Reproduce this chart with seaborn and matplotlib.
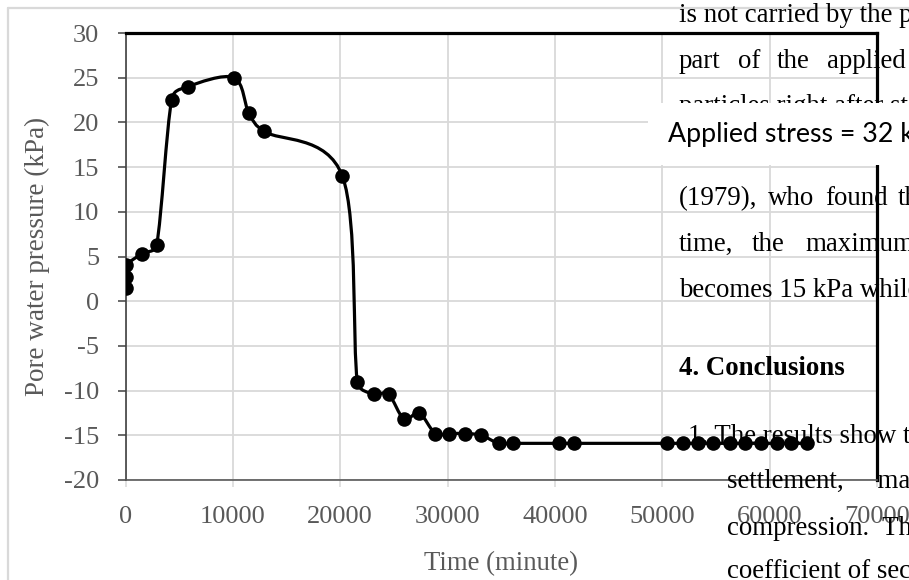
import numpy as np
import matplotlib
matplotlib.use("Agg")
import matplotlib.pyplot as plt
import seaborn as sns
import pandas as pd
from matplotlib.path import Path
from matplotlib.patches import PathPatch, Rectangle
from matplotlib.lines import Line2D

# ---------------- data ----------------
time_min = [0, 10, 60, 1500, 2900, 4300, 5800, 10100, 11500, 12900, 20200,
            21600, 23150, 24500, 25950, 27350, 28850, 30150, 31650, 33150,
            34750, 36050, 40400, 41800, 50450, 51950, 53350, 54750, 56300,
            57700, 59150, 60650, 62000, 63450]
pore_kpa = [1.5, 2.7, 4.0, 5.3, 6.3, 22.5, 24.0, 25.0, 21.0, 19.0, 14.0,
            -9.0, -10.4, -10.4, -13.2, -12.5, -14.8, -14.8, -14.8, -15.0,
            -15.9, -15.9, -15.9, -15.9, -15.9, -15.9, -15.9, -15.9, -15.9,
            -15.9, -15.9, -15.9, -15.9, -15.9]
x_ticks = [0, 10000, 20000, 30000, 40000, 50000, 60000, 70000]
y_ticks = [-20, -15, -10, -5, 0, 5, 10, 15, 20, 25, 30]
x_label = "Time (minute)"
y_label = "Pore water pressure (kPa)"
box_text = "Applied stress = 32 kPa"

W, H = 909, 580
sns.set_style("white")
plt.rcParams["axes.unicode_minus"] = False
plt.rcParams["font.family"] = ["Liberation Serif", "DejaVu Serif"]

fig = plt.figure(figsize=(W / 100, H / 100), dpi=100)
fig.patch.set_facecolor("white")

def fx(px):
    return px / W

def fy(py):
    return 1 - py / H

L, R, T, B = 125.5, 877, 33, 480
XMIN, XMAX, YMIN, YMAX = 0, 70000, -20, 30
ax = fig.add_axes([fx(L), fy(B), fx(R - L), (B - T) / H])

df = pd.DataFrame({"t": time_min, "p": pore_kpa})

# smoothed line, Excel-like Bezier (tangent length limited in screen space)
P = np.column_stack([df["t"].to_numpy(float), df["p"].to_numpy(float)])
scale = np.array([(R - L) / (XMAX - XMIN), (B - T) / (YMAX - YMIN)])
n = len(P)
verts = [tuple(P[0])]
codes = [Path.MOVETO]
for i in range(n - 1):
    p0 = P[i - 1] if i > 0 else P[i]
    p1 = P[i]
    p2 = P[i + 1]
    p3 = P[i + 2] if i + 2 < n else P[i + 1]
    d12 = np.hypot(*((p2 - p1) * scale))
    d02 = np.hypot(*((p2 - p0) * scale))
    d13 = np.hypot(*((p3 - p1) * scale))
    f1 = 1 / 6
    if d02 > 0 and d02 / 6 > d12 / 2:
        f1 = d12 / (2 * d02)
    f2 = 1 / 6
    if d13 > 0 and d13 / 6 > d12 / 2:
        f2 = d12 / (2 * d13)
    c1 = p1 + (p2 - p0) * f1
    c2 = p2 - (p3 - p1) * f2
    verts += [tuple(c1), tuple(c2), tuple(p2)]
    codes += [Path.CURVE4] * 3
ax.add_patch(PathPatch(Path(verts, codes), facecolor="none", edgecolor="black",
                       lw=2.3, zorder=3, transform=ax.transData,
                       capstyle="round", joinstyle="round"))

sns.scatterplot(data=df, x="t", y="p", ax=ax, color="black", s=110,
                edgecolor="black", linewidth=0, zorder=4, legend=False)

ax.set_xlim(XMIN, XMAX)
ax.set_ylim(YMIN, YMAX)
ax.set_xticks(x_ticks)
ax.set_xticklabels([str(v) for v in x_ticks])
ax.set_yticks(y_ticks)
ax.set_yticklabels([str(v) for v in y_ticks])
ax.grid(True, color="#d9d9d9", lw=1.3)
ax.set_axisbelow(True)
ax.tick_params(axis="y", which="major", direction="out", length=6, width=1.1,
               color="#404040", labelsize=19, labelcolor="#595959", pad=13, left=True)
ax.tick_params(axis="x", which="major", direction="out", length=5, width=1.1,
               color="#d9d9d9", labelsize=19, labelcolor="#595959", pad=14, bottom=True)
ax.set_xlabel(x_label, fontsize=19.3, color="#595959", labelpad=16)
ax.set_ylabel(y_label, fontsize=19.5, color="#595959", labelpad=10)

for s in ["top", "right"]:
    ax.spines[s].set_color("black")
    ax.spines[s].set_linewidth(2.3)
ax.spines["left"].set_color("#404040")
ax.spines["left"].set_linewidth(1.2)
ax.spines["bottom"].set_color("#595959")
ax.spines["bottom"].set_linewidth(1.2)

# outer chart frame (light gray)
fig.add_artist(Line2D([fx(8), fx(8)], [0, fy(8)], transform=fig.transFigure,
                      color="#d9d9d9", lw=1.6, zorder=1))
fig.add_artist(Line2D([fx(8), 1], [fy(8), fy(8)], transform=fig.transFigure,
                      color="#d9d9d9", lw=1.6, zorder=1))

# overlapping document text
doc_font = dict(fontfamily=["Liberation Serif", "DejaVu Serif"], fontsize=19.4,
                color="black", va="baseline", ha="left", zorder=6)
doc_lines = [
    (679, 21.7, "is not carried by the p", "normal"),
    (679, 113.3, "particles right after st", "normal"),
    (679, 296.7, "becomes 15 kPa while", "normal"),
    (679, 375.0, "4. Conclusions", "bold"),
    (688, 443.3, "1. The results show t", "normal"),
    (727, 488.0, "settlement,     ma", "normal"),
    (727, 535.0, "compression.  Th", "normal"),
    (727, 578.0, "coefficient of sec", "normal"),
]
for x0, yb, txt, wt in doc_lines:
    fig.text(fx(x0), fy(yb), txt, fontweight=wt, **doc_font)

# justified lines
for x0, word in [(679, "part"), (738, "of"), (777, "the"), (827, "applied")]:
    fig.text(fx(x0), fy(68.3), word, **doc_font)
for x0, word in [(679, "(1979),"), (768, "who"), (825, "found"), (898, "th")]:
    fig.text(fx(x0), fy(205.0), word, **doc_font)
for x0, word in [(679, "time,"), (752, "the"), (805, "maximum")]:
    fig.text(fx(x0), fy(251.0), word, **doc_font)

# white text box
fig.add_artist(Rectangle((fx(648), fy(165)), 1 - fx(648), (165 - 103) / H,
                         transform=fig.transFigure, facecolor="white",
                         edgecolor="none", zorder=7))
fig.text(fx(668), fy(141.7), box_text, fontfamily=["Lato", "DejaVu Sans"],
         fontsize=19.3, color="black", va="baseline", ha="left", zorder=8)

fig.savefig("out.png", dpi=100)
